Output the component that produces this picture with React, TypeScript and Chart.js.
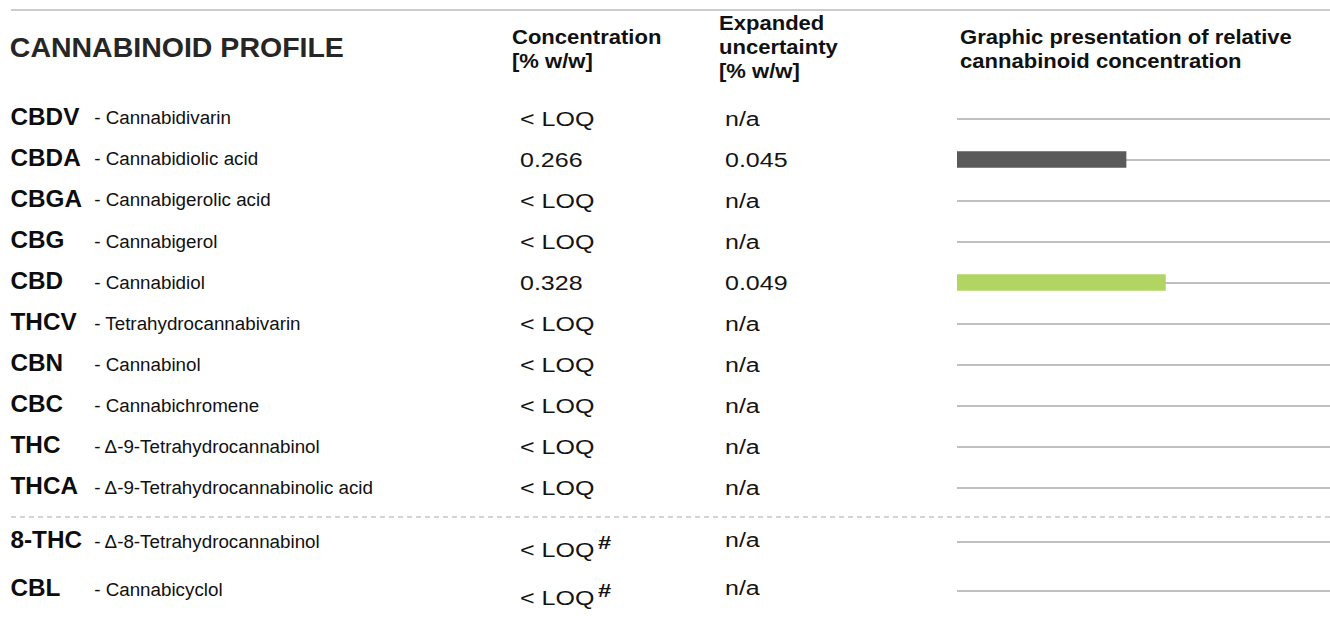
import React, { useEffect, useRef } from "react";
import { Chart, registerables } from "chart.js";

Chart.register(...registerables);

// ---------- data ----------
const codes = ["CBDV", "CBDA", "CBGA", "CBG", "CBD", "THCV", "CBN", "CBC", "THC", "THCA", "8-THC", "CBL"];
const names = [
  "Cannabidivarin",
  "Cannabidiolic acid",
  "Cannabigerolic acid",
  "Cannabigerol",
  "Cannabidiol",
  "Tetrahydrocannabivarin",
  "Cannabinol",
  "Cannabichromene",
  "Δ-9-Tetrahydrocannabinol",
  "Δ-9-Tetrahydrocannabinolic acid",
  "Δ-8-Tetrahydrocannabinol",
  "Cannabicyclol",
];
const concentrationValues: (number | null)[] = [null, 0.266, null, null, 0.328, null, null, null, null, null, null, null];
const concentrationLabels = ["< LOQ", "0.266", "< LOQ", "< LOQ", "0.328", "< LOQ", "< LOQ", "< LOQ", "< LOQ", "< LOQ", "< LOQ", "< LOQ"];
const footnoteMarks = ["", "", "", "", "", "", "", "", "", "", "#", "#"];
const uncertaintyLabels = ["n/a", "0.045", "n/a", "n/a", "0.049", "n/a", "n/a", "n/a", "n/a", "n/a", "n/a", "n/a"];
const barColors = ["#5a5a5a", "#5a5a5a", "#5a5a5a", "#5a5a5a", "#b1d563", "#5a5a5a", "#5a5a5a", "#5a5a5a", "#5a5a5a", "#5a5a5a", "#5a5a5a", "#5a5a5a"];
const axisMax = 0.587;
const mainRowCount = 10;

const titleText = "CANNABINOID PROFILE";
const concentrationHeader = ["Concentration", "[% w/w]"];
const uncertaintyHeader = ["Expanded", "uncertainty", "[% w/w]"];
const graphicHeader = ["Graphic presentation of relative", "cannabinoid concentration"];

// ---------- layout ----------
const FONT = '"Liberation Sans", Arial, Helvetica, sans-serif';
const ROW0_BASE = 125.3;
const ROW_STEP = 41.04;
const EXTRA_BASES = [549, 597];

function rowBase(i: number) {
  return i < mainRowCount ? ROW0_BASE + ROW_STEP * i : EXTRA_BASES[i - mainRowCount];
}

type TxtProps = {
  x: number;
  base: number;
  size: number;
  weight?: number;
  sx?: number;
  color?: string;
  children?: React.ReactNode;
};

function Txt({ x, base, size, weight = 400, sx = 1, color = "#111", children }: TxtProps) {
  return (
    <div
      style={{
        position: "absolute",
        left: x,
        top: base - 0.8465 * size,
        fontSize: size,
        lineHeight: `${size}px`,
        fontWeight: weight,
        fontFamily: FONT,
        whiteSpace: "nowrap",
        color,
        transform: sx !== 1 ? `scaleX(${sx})` : undefined,
        transformOrigin: "0 0",
      }}
    >
      {children}
    </div>
  );
}

type StripProps = {
  labels: string[];
  values: (number | null)[];
  colors: string[];
  left: number;
  top: number;
  width: number;
  height: number;
};

function BarStrip({ labels, values, colors, left, top, width, height }: StripProps) {
  const ref = useRef<HTMLCanvasElement>(null);
  useEffect(() => {
    if (!ref.current) return;
    const chart = new Chart(ref.current, {
      type: "bar",
      data: {
        labels,
        datasets: [
          {
            data: values as any,
            backgroundColor: colors,
            borderWidth: 0,
            barThickness: 16,
          },
        ],
      },
      options: {
        indexAxis: "y",
        animation: false,
        responsive: false,
        maintainAspectRatio: false,
        layout: { padding: 0 },
        plugins: { legend: { display: false }, tooltip: { enabled: false } },
        scales: {
          x: { type: "linear", min: 0, max: axisMax, display: false },
          y: {
            type: "category",
            display: true,
            ticks: { display: false },
            border: { display: false },
            grid: { offset: false, color: "#bfbfbf", lineWidth: 2, drawTicks: false },
          },
        },
      },
    });
    return () => chart.destroy();
  }, []);
  return (
    <canvas
      ref={ref}
      width={width}
      height={height}
      style={{ position: "absolute", left, top, width, height }}
    />
  );
}

export default function App() {
  const rows = codes.map((code, i) => {
    const b = rowBase(i);
    const extra = i >= mainRowCount;
    const valueBase = extra ? b + 8 : b + 0.5;
    const uncBase = extra ? b - 2.3 : b + 0.5;
    return (
      <React.Fragment key={code}>
        <Txt x={10.5} base={b} size={24.3} weight={700} color="#0d0d0d">
          {code}
        </Txt>
        <Txt x={94.2} base={b} size={18.8} color="#111">
          {"- " + names[i]}
        </Txt>
        <Txt x={520} base={valueBase} size={20} sx={1.25} color="#141414">
          {concentrationLabels[i]}
          {footnoteMarks[i] ? (
            <span style={{ fontSize: 19, fontWeight: 700, position: "relative", top: -8.5, marginLeft: 3 }}>
              {footnoteMarks[i]}
            </span>
          ) : null}
        </Txt>
        <Txt x={725} base={uncBase} size={20} sx={1.25} color="#141414">
          {uncertaintyLabels[i]}
        </Txt>
      </React.Fragment>
    );
  });

  return (
    <div style={{ position: "absolute", left: 0, top: 0, width: 1330, height: 619, background: "#fff", overflow: "hidden" }}>
      <div style={{ position: "absolute", left: 11, top: 9, width: 1319, height: 2, background: "#cccccc" }} />

      <Txt x={9.8} base={57.5} size={28.5} weight={700} color="#262626">
        {titleText}
      </Txt>
      {concentrationHeader.map((t, k) => (
        <Txt key={t} x={512} base={44.5 + 24 * k} size={19.5} weight={700} sx={1.13}>
          {t}
        </Txt>
      ))}
      {uncertaintyHeader.map((t, k) => (
        <Txt key={t} x={718.5} base={31 + 24 * k} size={19.5} weight={700} sx={1.13}>
          {t}
        </Txt>
      ))}
      {graphicHeader.map((t, k) => (
        <Txt key={t} x={959.7} base={44.5 + 24 * k} size={19.5} weight={700} sx={1.13}>
          {t}
        </Txt>
      ))}

      {rows}

      <div
        style={{
          position: "absolute",
          left: 11,
          top: 516,
          width: 1319,
          height: 2,
          backgroundImage: "repeating-linear-gradient(to right, #d4d4d4 0px, #d4d4d4 5px, transparent 5px, transparent 9px)",
        }}
      />

      <BarStrip
        labels={codes.slice(0, mainRowCount)}
        values={concentrationValues.slice(0, mainRowCount)}
        colors={barColors.slice(0, mainRowCount)}
        left={957}
        top={98}
        width={373}
        height={410}
      />
      <BarStrip
        labels={codes.slice(mainRowCount)}
        values={concentrationValues.slice(mainRowCount)}
        colors={barColors.slice(mainRowCount)}
        left={957}
        top={517}
        width={373}
        height={98}
      />
    </div>
  );
}
